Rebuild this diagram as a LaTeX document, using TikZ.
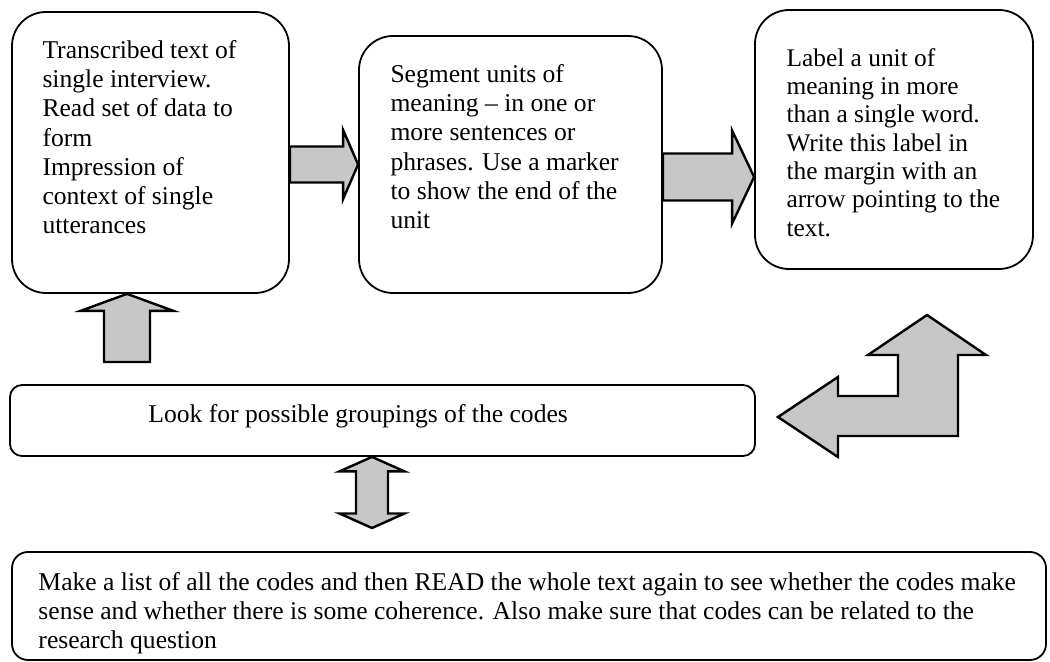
\documentclass[tikz,border=0pt]{standalone}
\usepackage{fontspec}
\setmainfont{Liberation Serif}
\usepackage{tikz}
\usetikzlibrary{calc}

\tikzset{
  boite/.style={draw, line width=0.9pt, rounded corners=17pt, inner sep=0pt},
  texte/.style={inner sep=0pt, anchor=north west, align=left, font=\fontsize{12.8}{14.6}\selectfont},
  fleche/.style={draw, line width=1.2pt, fill=black!22, line join=miter},
}

% fleche pleine : depart, pointe, demi-tige, demi-tete, longueur tete
\newcommand{\flechebloc}[5]{%
  \coordinate (fb-col) at ($(#2)!#5!(#1)$);
  \draw[fleche] ($(#1)!#3!90:(#2)$) -- ($(fb-col)!#3!90:(#2)$) -- ($(fb-col)!#4!90:(#2)$)
    -- (#2) -- ($(fb-col)!#4!-90:(#2)$) -- ($(fb-col)!#3!-90:(#2)$) -- ($(#1)!#3!-90:(#2)$) -- cycle;
}
% fleche double : pointe 1, pointe 2, demi-tige, demi-tete, longueur tete
\newcommand{\flechedouble}[5]{%
  \coordinate (fd-a) at ($(#1)!#5!(#2)$);
  \coordinate (fd-b) at ($(#2)!#5!(#1)$);
  \draw[fleche] (#1) -- ($(fd-a)!#4!-90:(#2)$) -- ($(fd-a)!#3!-90:(#2)$) -- ($(fd-b)!#3!-90:(#2)$)
    -- ($(fd-b)!#4!-90:(#2)$) -- (#2) -- ($(fd-b)!#4!90:(#2)$) -- ($(fd-b)!#3!90:(#2)$)
    -- ($(fd-a)!#3!90:(#2)$) -- ($(fd-a)!#4!90:(#2)$) -- cycle;
}

\begin{document}
\begin{tikzpicture}[x=0.5pt, y=-0.5pt]
\useasboundingbox (0,0) rectangle (1050,662);

% Boites du haut
\node[boite, minimum width=138.5pt, minimum height=140.5pt] (transcrit) at (150.5,152.5) {};
\node[texte] (t-transcrit) at ($(transcrit.north west)+(31,29)$) {Transcribed text of\\single interview.\\Read set of data to\\form\\Impression of\\context of single\\utterances};

\node[boite, minimum width=151.5pt, minimum height=128.5pt] (segment) at (510.5,164.5) {};
\node[texte] (t-segment) at ($(segment.north west)+(32,29)$) {Segment units of\\meaning – in one or\\more sentences or\\phrases. Use a marker\\to show the end of the\\unit};

\node[boite, minimum width=139pt, minimum height=129.5pt] (etiquette) at (894,139.5) {};
\node[texte, font=\fontsize{12.7}{14.15}\selectfont] (t-etiquette) at ($(etiquette.north west)+(32,39)$) {Label a unit of\\meaning in more\\than a single word.\\Write this label in\\the margin with an\\arrow pointing to the\\text.};

% Regroupements
\node[boite, rounded corners=6pt, minimum width=372.5pt, minimum height=35.5pt] (groupes) at (382.5,420.5) {};
\node[texte, anchor=base west] (t-groupes) at (148,423) {Look for possible groupings of the codes};

% Liste des codes
\node[boite, rounded corners=8pt, minimum width=517pt, minimum height=54pt] (liste) at (529,606) {};
\node[texte] (t-liste) at ($(liste.north west)+(27,21)$) {Make a list of all the codes and then READ the whole text again to see whether the codes make\\sense and whether there is some coherence. Also make sure that codes can be related to the\\research question};

% Fleches
\coordinate (f1a) at (transcrit.east |- segment.west);
\flechebloc{f1a}{segment.west}{9pt}{17.25pt}{7.5pt}
\coordinate (f2a) at ($(segment.east)+(0,12.5)$);
\coordinate (f2b) at (f2a -| etiquette.west);
\flechebloc{f2a}{f2b}{11.75pt}{23.25pt}{11pt}
\coordinate (f3a) at (127,362);
\coordinate (f3b) at (f3a |- transcrit.south);
\flechebloc{f3a}{f3b}{11.5pt}{23.25pt}{8.5pt}
\coordinate (f4b) at (372,528);
\coordinate (f4a) at (f4b |- groupes.south);
\flechedouble{f4a}{f4b}{8pt}{16.25pt}{7.25pt}

% Fleche coudee
\draw[fleche] (778,417) -- (838,377) -- (838,396) -- (898,396) -- (898,355) -- (868,355)
  -- (927,315) -- (986,355) -- (958,355) -- (958,436) -- (838,436) -- (838,457) -- cycle;

\end{tikzpicture}
\end{document}
